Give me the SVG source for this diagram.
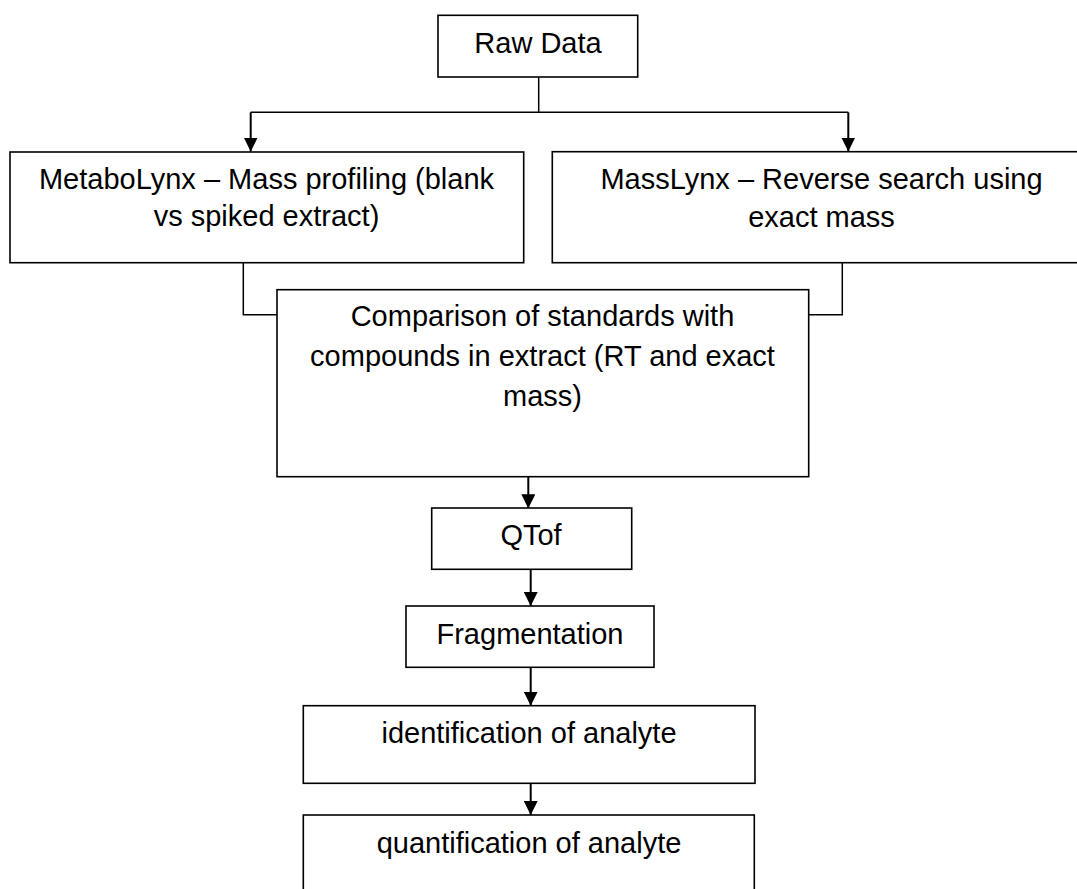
<svg xmlns="http://www.w3.org/2000/svg" width="1077" height="889" viewBox="0 0 1077 889">
<style>
.box{fill:#fff;stroke:#000;stroke-width:1.6}
.t{font-family:"Liberation Sans",Arial,sans-serif;font-size:29px;fill:#000;text-anchor:middle}
.ln{fill:none;stroke:#000;stroke-width:1.5}
.ar{fill:none;stroke:#000;stroke-width:2}
</style>
<defs>
<marker id="ah" markerUnits="userSpaceOnUse" markerWidth="14" markerHeight="14" refX="14" refY="7" orient="auto">
<path d="M0,0 L14,7 L0,14 z" fill="#000"/>
</marker>
</defs>
<rect width="1077" height="889" fill="#fff"/>
<g id="connectors">
<polyline class="ln" points="538.7,77 538.7,112.3"/>
<polyline class="ln" points="250.7,112.3 848.3,112.3"/>
<line class="ar" x1="250.7" y1="112.3" x2="250.7" y2="151.5" marker-end="url(#ah)"/>
<line class="ar" x1="848.3" y1="112.3" x2="848.3" y2="151.5" marker-end="url(#ah)"/>
<polyline class="ln" points="243.3,262.7 243.3,314.7 277,314.7"/>
<polyline class="ln" points="842.3,262.7 842.3,314.7 808.7,314.7"/>
<line class="ar" x1="528.3" y1="476.7" x2="528.3" y2="508.3" marker-end="url(#ah)"/>
<line class="ar" x1="530.7" y1="569.3" x2="530.7" y2="606" marker-end="url(#ah)"/>
<line class="ar" x1="530.7" y1="667.3" x2="530.7" y2="705.7" marker-end="url(#ah)"/>
<line class="ar" x1="530.7" y1="783.3" x2="530.7" y2="815" marker-end="url(#ah)"/>
</g>
<g id="raw-data">
<rect class="box" x="438" y="15.3" width="199.7" height="61.7"/>
<text class="t" x="538" y="53.3">Raw Data</text>
</g>
<g id="metabolynx">
<rect class="box" x="10" y="152" width="513.7" height="110.7"/>
<text class="t" x="266.5" y="189">MetaboLynx – Mass profiling (blank</text>
<text class="t" x="266.5" y="226">vs spiked extract)</text>
</g>
<g id="masslynx">
<rect class="box" x="552.3" y="151.7" width="539" height="111"/>
<text class="t" x="821.5" y="189">MassLynx – Reverse search using</text>
<text class="t" x="821.5" y="226.5">exact mass</text>
</g>
<g id="comparison">
<rect class="box" x="277" y="289.7" width="531.7" height="187"/>
<text class="t" x="542.5" y="326">Comparison of standards with</text>
<text class="t" x="542.5" y="366">compounds in extract (RT and exact</text>
<text class="t" x="542.5" y="406">mass)</text>
</g>
<g id="qtof">
<rect class="box" x="431.7" y="508" width="200" height="61.3"/>
<text class="t" x="531" y="545">QTof</text>
</g>
<g id="fragmentation">
<rect class="box" x="406" y="606" width="248" height="61.3"/>
<text class="t" x="530" y="644">Fragmentation</text>
</g>
<g id="identification">
<rect class="box" x="303.3" y="705.7" width="451.7" height="77.6"/>
<text class="t" x="529" y="743.3">identification of analyte</text>
</g>
<g id="quantification">
<rect class="box" x="303.3" y="815" width="451" height="100"/>
<text class="t" x="529" y="853.3">quantification of analyte</text>
</g>
</svg>
